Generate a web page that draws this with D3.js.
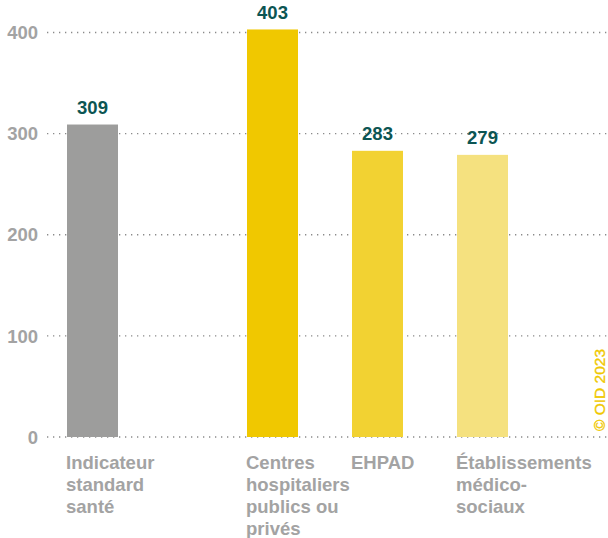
<!DOCTYPE html>
<html><head><meta charset="utf-8">
<script src="https://cdn.jsdelivr.net/npm/d3@7"></script>
<style>
html,body{margin:0;padding:0;background:#fff;}
text{font-family:"Liberation Sans",Arial,sans-serif;}
</style></head>
<body>
<svg id="chart" width="608" height="538"></svg>
<script>
const categories = ["Indicateur standard santé", "Centres hospitaliers publics ou privés", "EHPAD", "Établissements médico-sociaux"];
const labelLines = [["Indicateur","standard","santé"],["Centres","hospitaliers","publics ou","privés"],["EHPAD"],["Établissements","médico-","sociaux"]];
const values = [309, 403, 283, 279];
const colors = ["#9d9d9c", "#f0c800", "#f2d232", "#f5e17f"];
const yTicks = [0, 100, 200, 300, 400];
const credit = "© OID 2023";

const svg = d3.select("#chart");
const y = d3.scaleLinear().domain([0, 400]).range([437, 32.5]);
const x = d3.scaleOrdinal().domain(categories).range([67, 247, 352, 457]);
const bw = 51;

// gridlines
svg.append("g").selectAll("line").data(yTicks).join("line")
  .attr("x1", 47).attr("x2", 607)
  .attr("y1", d => y(d)).attr("y2", d => y(d))
  .attr("stroke", "#8a8a8a").attr("stroke-width", 1.3)
  .attr("stroke-dasharray", "1.3,4.7");

// y tick labels
svg.append("g").selectAll("text").data(yTicks).join("text")
  .attr("x", 38).attr("y", d => y(d)).attr("dy", "0.36em")
  .attr("text-anchor", "end").attr("font-size", 18.5).attr("font-weight", "bold")
  .attr("fill", "#a3a3a3").text(d => d);

// bars
svg.append("g").selectAll("rect").data(values).join("rect")
  .attr("x", (d, i) => x(categories[i])).attr("width", bw)
  .attr("y", d => y(d)).attr("height", d => y(0) - y(d))
  .attr("fill", (d, i) => colors[i]);

// value labels
svg.append("g").selectAll("text").data(values).join("text")
  .attr("x", (d, i) => x(categories[i]) + bw / 2).attr("y", d => y(d) - 10.5)
  .attr("text-anchor", "middle").attr("font-size", 18.5).attr("font-weight", "bold")
  .attr("fill", "#0c5553").text(d => d);

// category labels
const lab = svg.append("g").selectAll("text").data(categories).join("text")
  .attr("x", d => x(d) - 1).attr("y", 468.5)
  .attr("font-size", 18.5).attr("font-weight", "bold").attr("fill", "#a3a3a3");
lab.each(function(d, i) {
  d3.select(this).selectAll("tspan").data(labelLines[i]).join("tspan")
    .attr("x", x(d) - 1).attr("dy", (t, j) => j === 0 ? 0 : 22).text(t => t);
});

// credit
svg.append("text").attr("transform", "translate(605,431) rotate(-90)")
  .attr("font-size", 15.5).attr("fill", "#f0c800").attr("stroke", "#f0c800").attr("stroke-width", 0.35)
  .text(credit);
</script>
</body></html>
